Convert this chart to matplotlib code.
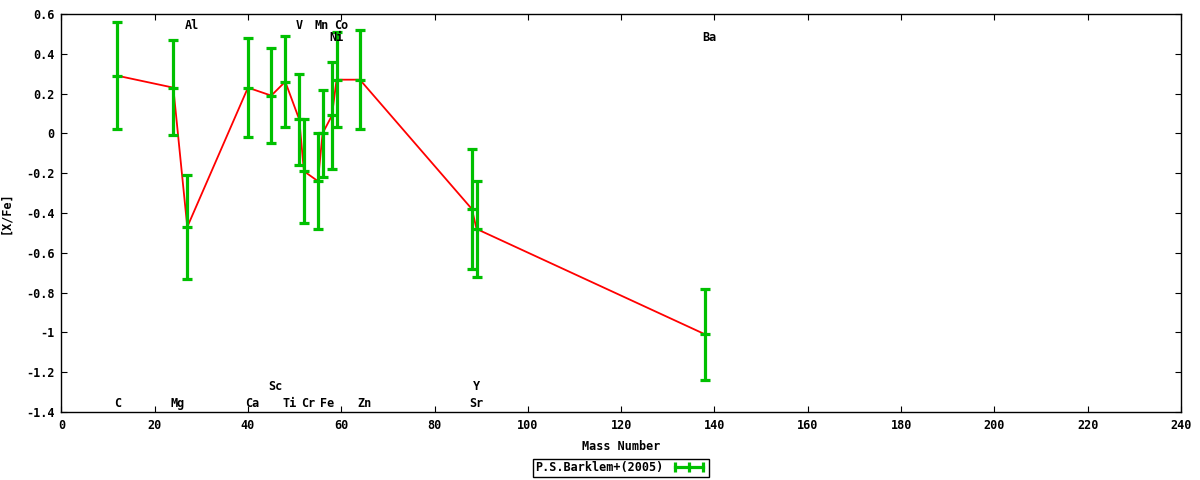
import numpy as np
import matplotlib
matplotlib.use("Agg")
import matplotlib.pyplot as plt
from matplotlib.lines import Line2D
from matplotlib.ticker import FuncFormatter, MultipleLocator

# ---------------------------
# DATA
# ---------------------------
elements = ["C", "Mg", "Al", "Ca", "Sc", "Ti", "V", "Cr", "Mn", "Fe",
            "Ni", "Co", "Zn", "Sr", "Y", "Ba"]
mass = [12, 24, 27, 40, 45, 48, 51, 52, 55, 56, 58, 59, 64, 88, 89, 138]
xfe = [0.29, 0.23, -0.47, 0.23, 0.19, 0.26, 0.07, -0.19, -0.24, 0.00,
       0.09, 0.27, 0.27, -0.38, -0.48, -1.01]
err = [0.27, 0.24, 0.26, 0.25, 0.24, 0.23, 0.23, 0.26, 0.24, 0.22,
       0.27, 0.24, 0.25, 0.30, 0.24, 0.23]

# element label rows (y in [X/Fe] units)
label_row = {"Al": 0.54, "V": 0.54, "Mn": 0.54, "Co": 0.54,
             "Ni": 0.48, "Ba": 0.48,
             "Sc": -1.274, "Y": -1.274,
             "C": -1.356, "Mg": -1.356, "Ca": -1.356, "Ti": -1.356,
             "Cr": -1.356, "Fe": -1.356, "Zn": -1.356, "Sr": -1.356}

RED = "#ff0000"
GREEN = "#00c000"

plt.rcParams["font.family"] = "DejaVu Sans Mono"
plt.rcParams["font.weight"] = "bold"
plt.rcParams["font.size"] = 8.5
plt.rcParams["axes.unicode_minus"] = False

# ---------------------------
# PLOT
# ---------------------------
fig = plt.figure(figsize=(12, 4.8), dpi=100)
ax = fig.add_axes([0.0511, 0.1417, 0.9331, 0.8291])

ax.plot(mass, xfe, color=RED, lw=1.3, zorder=2)
ax.errorbar(mass, xfe, yerr=err, fmt="_", color=GREEN, ecolor=GREEN,
            elinewidth=2.3, capsize=3.3, capthick=2.3, markersize=7,
            markeredgewidth=2.3, zorder=3)

for el, m in zip(elements, mass):
    dx = 3 if len(el) > 1 else 0
    ax.annotate(el, (m, label_row[el]), xytext=(dx, 0),
                textcoords="offset points", ha="center", va="center",
                fontweight="bold", zorder=4)

ax.set_xlim(0, 240)
ax.set_ylim(-1.4, 0.6)
ax.xaxis.set_major_locator(MultipleLocator(20))
ax.yaxis.set_major_locator(MultipleLocator(0.2))
ax.yaxis.set_major_formatter(FuncFormatter(lambda v, p: "%g" % round(v, 2)))
ax.tick_params(direction="in", length=4.5, width=0.8, top=True, right=True,
               labelsize=8.5, pad=5)
for lab in ax.get_xticklabels() + ax.get_yticklabels():
    lab.set_fontweight("bold")
for s in ax.spines.values():
    s.set_linewidth(1.0)

ax.set_xlabel("Mass Number", fontweight="bold", labelpad=6)
ax.set_ylabel("[X/Fe]", fontweight="bold")
ax.yaxis.set_label_coords(-0.044, 0.5)

handle = Line2D([], [], color=GREEN, lw=2.3, marker="|", markersize=7,
                markeredgewidth=2.3)
leg = fig.legend([handle], ["P.S.Barklem+(2005)"], loc="center",
                 bbox_to_anchor=(0.5175, 0.025), numpoints=3,
                 markerfirst=False, handlelength=3.0, handletextpad=0.6,
                 borderpad=0.2, borderaxespad=0, fancybox=False,
                 framealpha=1, edgecolor="black")
leg.get_frame().set_linewidth(1.0)
for t in leg.get_texts():
    t.set_fontweight("bold")

plt.savefig("out.png", dpi=100)
